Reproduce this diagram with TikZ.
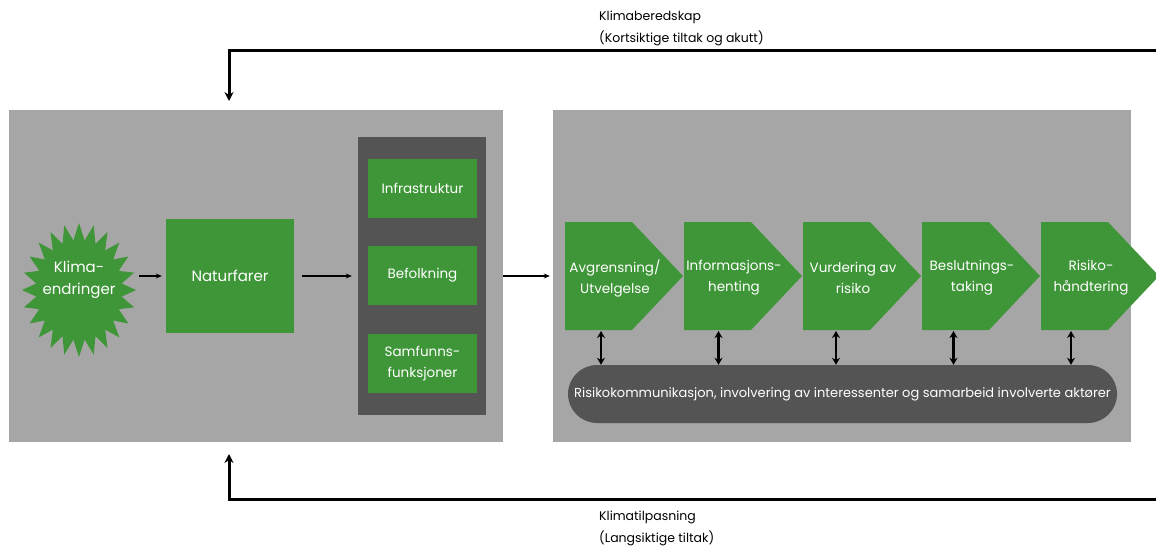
\documentclass[tikz,border=0pt]{standalone}
\usepackage{fontspec}
\setmainfont{Poppins}
\usetikzlibrary{arrows.meta}
\definecolor{panel}{HTML}{A6A6A6}
\definecolor{darkpanel}{HTML}{545454}
\definecolor{leaf}{HTML}{3F9638}

\begin{document}
\begin{tikzpicture}[x=1pt,y=-1pt,
  every node/.style={inner sep=0pt, align=center},
  whitetext/.style={text=white, font=\fontsize{13.5}{21}\selectfont},
  blacktext/.style={text=black, font=\fontsize{12.5}{14}\selectfont, anchor=west},
  panelbox/.style={fill=panel},
  greenbox/.style={fill=leaf, whitetext, minimum width=109pt, minimum height=59pt},
  thinarrow/.style={draw=black, line width=1.3pt, -{Stealth[length=6pt,width=5pt]}},
  dblarrow/.style={draw=black, line width=2.2pt, {Stealth[length=7pt,width=8pt]}-{Stealth[length=7pt,width=8pt]}},
  fbarrow/.style={draw=black, line width=3pt, -{Stealth[length=9pt,width=9pt]}},
]
\useasboundingbox (0,0) rectangle (1156,546);
\fill[white] (0,0) rectangle (1156,546);

% two grey panels
\node[panelbox, minimum width=494pt, minimum height=332pt] (leftpanel) at (256,276) {};
\node[panelbox, minimum width=578pt, minimum height=332pt] (rightpanel) at (842,276) {};

% 24-point star with its label
\begin{scope}[shift={(79,290)}]
  \fill[leaf] (90:57pt and 67pt)
    \foreach \i in {0,...,23} { -- ({90+\i*15+7.5}:43pt and 50pt) -- ({90+(\i+1)*15}:57pt and 67pt) } -- cycle;
\end{scope}
\node[whitetext, font=\fontsize{15}{22}\selectfont, minimum width=114pt, minimum height=134pt] (klima) at (79,280) {Klima-\\endringer};

% hazards
\node[fill=leaf, whitetext, font=\fontsize{15}{22}\selectfont, minimum width=128pt, minimum height=114pt] (natur) at (230,276) {Naturfarer};

% exposed elements
\node[fill=darkpanel, minimum width=128pt, minimum height=278pt] (dark) at (422,276) {};
\node[greenbox] (infra) at (422.5,188.5) {Infrastruktur};
\node[greenbox] (befolk) at (422.5,275.5) {Befolkning};
\node[greenbox] (samf) at (422.5,363.5) {Samfunns-\\funksjoner};

\draw[thinarrow, shorten <=3pt, shorten >=4pt] (klima.east |- natur.west) -- (natur.west);
\draw[thinarrow, shorten <=8pt, shorten >=6pt] (natur.east) -- (dark.west);
\draw[thinarrow, shorten >=3pt] (leftpanel.east) -- (rightpanel.west);

% communication bar
\node[fill=darkpanel, rounded corners=29pt, minimum width=549pt, minimum height=58pt,
      text=white, font=\fontsize{13}{15}\selectfont] (bar) at (842.5,394)
  {Risikokommunikasjon, involvering av interessenter og samarbeid involverte aktører};

% process chevrons
\foreach \i/\txt in {1/{Avgrensning/\\Utvelgelse}, 2/{Informasjons-\\henting}, 3/{Vurdering av\\risiko}, 4/{Beslutnings-\\taking}, 5/{Risiko-\\håndtering}} {
  \pgfmathsetmacro{\lx}{565+119*(\i-1)}
  \pgfmathsetmacro{\ax}{\lx+36-1.5*(\i-1)}
  \fill[leaf] (\lx,222) -- ++(67,0) -- ++(51,54) -- ++(-51,54) -- ++(-67,0) -- cycle;
  \node[whitetext] (c\i) at (\lx+50,278) {\txt};
  \coordinate (ab\i) at (\ax,331);
  \draw[dblarrow] (ab\i) -- (ab\i |- bar.north);
}

% feedback loops
\coordinate (topin) at (1156,50);
\coordinate (topend) at (229,101);
\draw[fbarrow] (topin) -| (topend);
\node[blacktext] (kb) at (599,17) {Klimaberedskap};
\node[blacktext] (kbsub) at (599,38) {(Kortsiktige tiltak og akutt)};

\coordinate (botin) at (1156,499);
\coordinate (botend) at (229,454);
\draw[fbarrow] (botin) -| (botend);
\node[blacktext] (kt) at (599,517) {Klimatilpasning};
\node[blacktext] (ktsub) at (599,538) {(Langsiktige tiltak)};
\end{tikzpicture}
\end{document}
